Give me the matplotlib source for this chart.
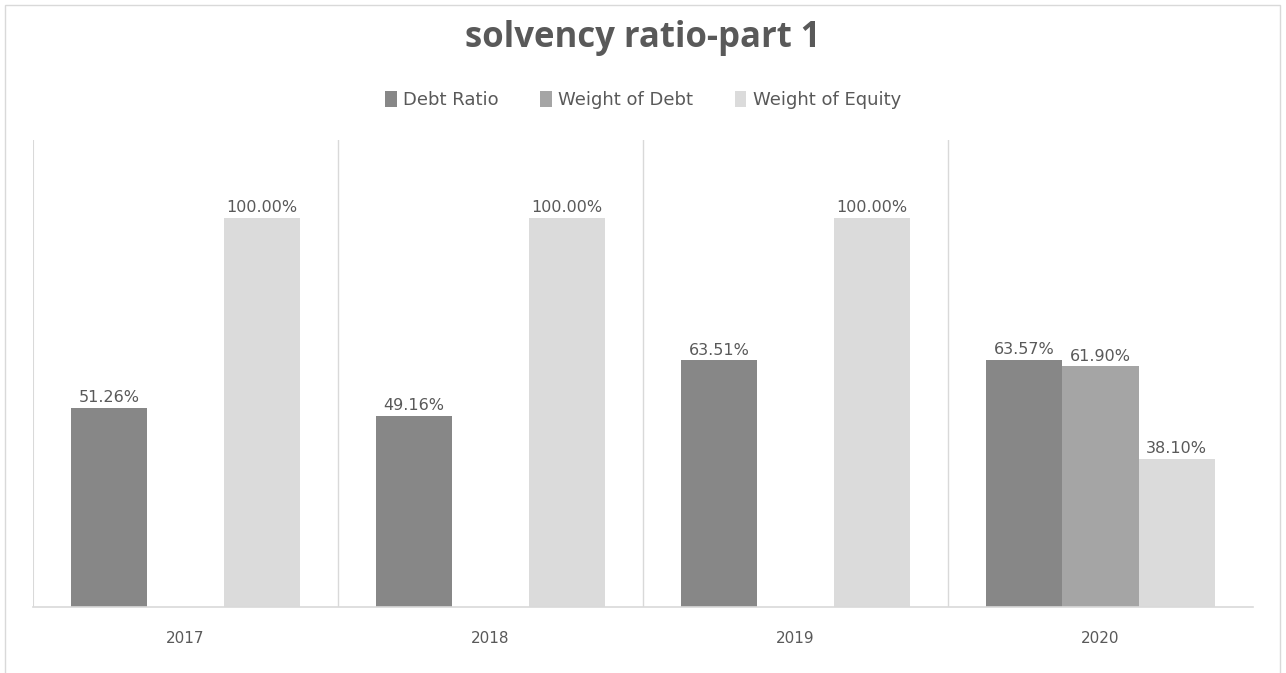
import numpy as np
import matplotlib.pyplot as plt
from matplotlib.patches import Rectangle

years = ["2017", "2018", "2019", "2020"]
debt_ratio = [0.5126, 0.4916, 0.6351, 0.6357]
weight_of_debt = [0.0, 0.0, 0.0, 0.6190]
weight_of_equity = [1.0, 1.0, 1.0, 0.3810]
series_names = ["Debt Ratio", "Weight of Debt", "Weight of Equity"]
colors = ["#878787", "#a5a5a5", "#dbdbdb"]
txt = "#595959"

plt.rcParams['font.family'] = ['DejaVu Sans']

fig = plt.figure(figsize=(12.86, 6.73), dpi=100)
fig.patches.append(Rectangle((5 / 1286, -0.01), 1275 / 1286, 1 - 5 / 673 + 0.01,
                             transform=fig.transFigure, fill=False,
                             edgecolor="#d9d9d9", linewidth=1))
ax = fig.add_axes([33 / 1286, 1 - 607 / 673, 1220 / 1286, 467 / 673])

x = np.arange(len(years))
w = 0.25
for i, (vals, name) in enumerate(zip([debt_ratio, weight_of_debt, weight_of_equity], series_names)):
    bars = ax.bar(x + (i - 1) * w, vals, w, color=colors[i], label=name)
    for b, v in zip(bars, vals):
        if v > 0:
            ax.text(b.get_x() + b.get_width() / 2, v + 0.006, "%.2f%%" % (v * 100),
                    ha="center", va="bottom", fontsize=11.5, color=txt)

ax.set_xlim(-0.5, len(years) - 0.5)
ax.set_ylim(0, 1.2)
for s in x[:-1] + 0.5:
    ax.axvline(s, color="#d9d9d9", linewidth=1)
ax.axvline(-0.5, color="#d9d9d9", linewidth=1.5)
for sp in ["top", "right", "left"]:
    ax.spines[sp].set_visible(False)
ax.spines["bottom"].set_color("#d9d9d9")
ax.spines["bottom"].set_linewidth(1.2)
ax.set_yticks([])
ax.set_xticks(x)
ax.set_xticklabels(years, fontsize=11, color=txt)
ax.tick_params(axis="x", length=0, pad=17)

fig.text(0.5, 1 - 38 / 673, "solvency ratio-part 1", ha="center", va="center",
         fontsize=25, fontweight="bold", color=txt, family=["Open Sans", "DejaVu Sans"])
fig.legend(loc="center", bbox_to_anchor=(0.5, 1 - 100 / 673), ncol=3, frameon=False,
           fontsize=13, labelcolor=txt, handlelength=0.65, handleheight=1.0,
           handletextpad=0.35, columnspacing=2.3)

fig.savefig("out.png", dpi=100)
